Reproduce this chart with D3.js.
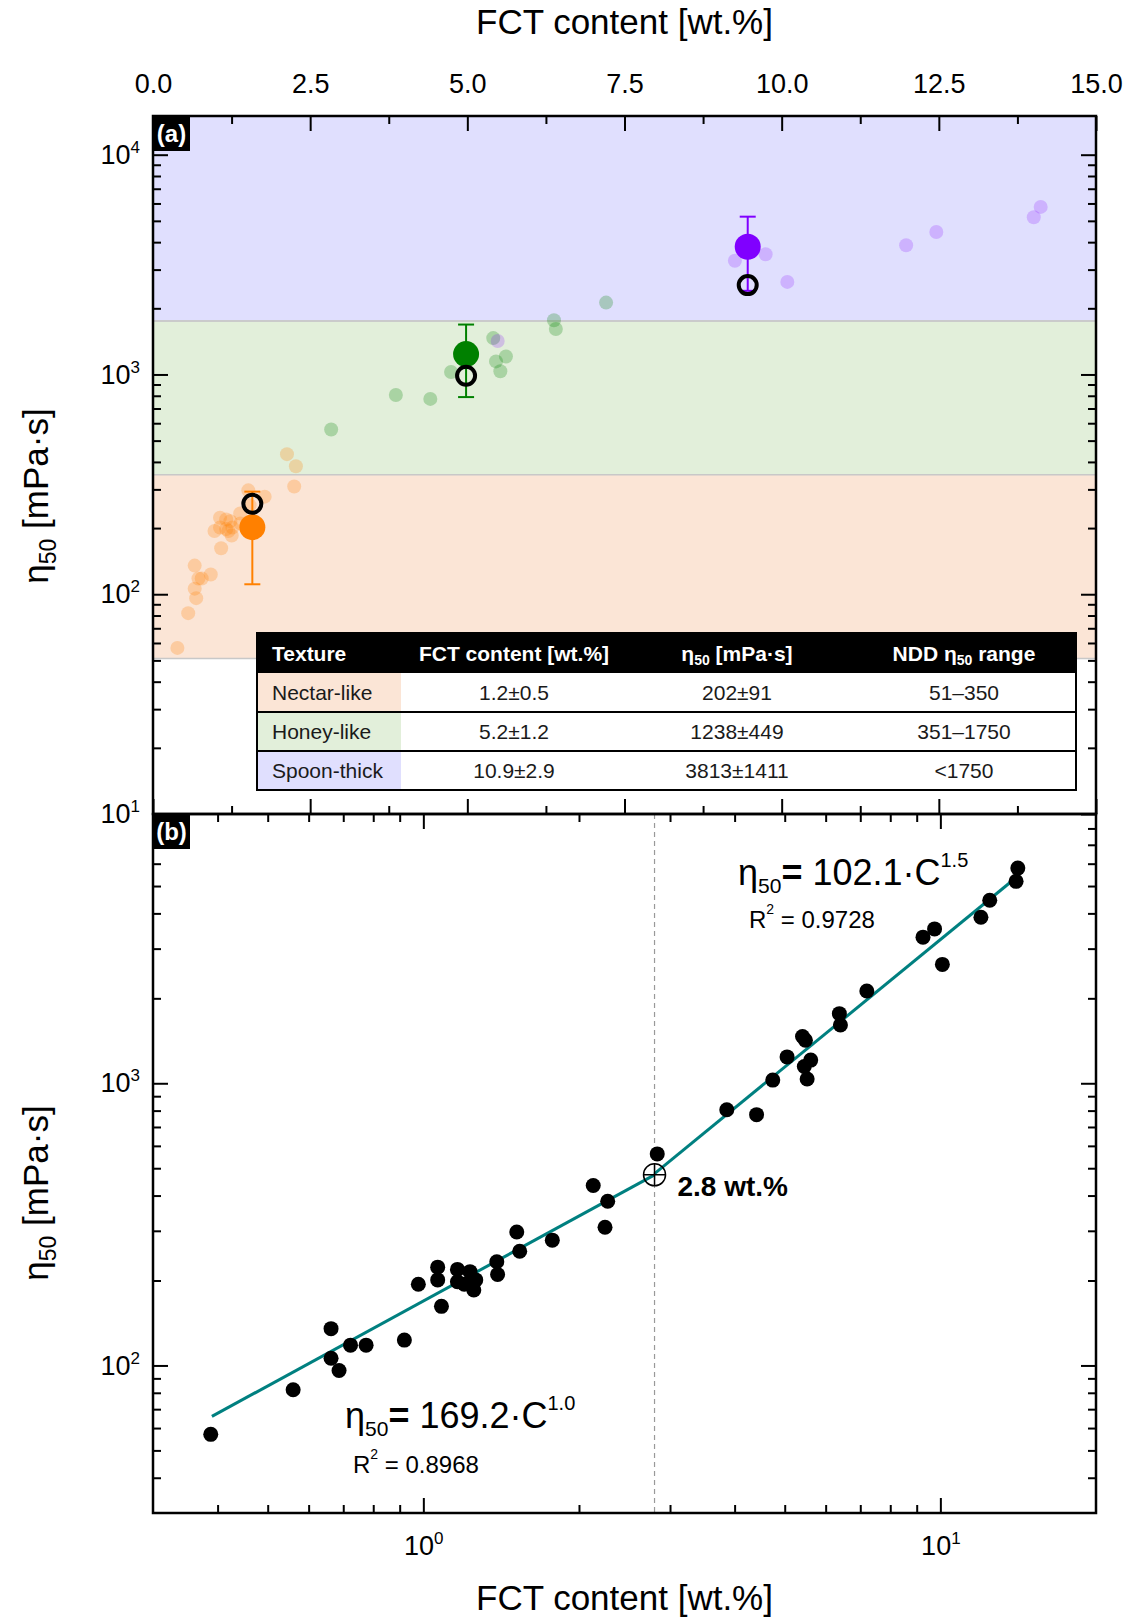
<!DOCTYPE html>
<html>
<head>
<meta charset="utf-8">
<title>FCT content vs eta50</title>
<script src="https://cdn.jsdelivr.net/npm/d3@7/dist/d3.min.js"></script>
<style>
  body { margin: 0; background: #fff; }
  svg text { font-family: "Liberation Sans", Arial, Helvetica, sans-serif; }
</style>
</head>
<body>
<svg id="chart" width="1131" height="1620"></svg>
<script>
// ---- values ----
// one entry per sample: FCT content [wt.%], eta50 [mPa·s], texture group (0 nectar, 1 honey, 2 spoon)
const fctContent = [0.388, 0.560, 0.663, 0.663, 0.687, 0.723, 0.775, 0.919, 0.978, 1.066,
                    1.066, 1.084, 1.164, 1.164, 1.231, 1.252, 1.263, 1.20, 1.387, 1.392,
                    1.516, 1.536, 1.776, 2.131, 2.273, 2.246, 2.834, 3.863, 4.411, 4.741,
                    5.053, 5.412, 5.483, 5.614, 5.456, 5.525, 6.378, 6.408, 7.207, 9.256,
                    9.745, 10.09, 11.98, 12.46, 14.12, 14.01];
const eta50 = [57, 82, 135, 106, 96, 118, 118, 123, 194, 223,
               201, 162, 219, 198, 215, 185, 201, 194, 233, 210,
               297, 254, 278, 434, 382, 309, 562, 806, 774, 1026,
               1240, 1464, 1421, 1208, 1147, 1035, 1765, 1609, 2123, 3294,
               3524, 2638, 3875, 4450, 5788, 5194];
const textureGroup = [0, 0, 0, 0, 0, 0, 0, 0, 0, 0,
                      0, 0, 0, 0, 0, 0, 0, 0, 0, 0,
                      0, 0, 0, 0, 0, 0, 1, 1, 1, 1,
                      1, 1, 2, 1, 1, 1, 1, 1, 1, 2,
                      2, 2, 2, 2, 2, 2];

// texture classes (table + bands)
const textures = ["Nectar-like", "Honey-like", "Spoon-thick"];
const fctMeanText = ["1.2±0.5", "5.2±1.2", "10.9±2.9"];
const etaMeanText = ["202±91", "1238±449", "3813±1411"];
const nddRangeText = ["51–350", "351–1750", "<1750"];
const bandLow = [51, 350, 1750];
const bandHigh = [350, 1750, 15000];

// group markers in panel (a)
const meanFct = [1.58, 4.98, 9.46];
const meanEta = [202, 1238, 3813];
const meanErr = [91, 449, 1411];
const refEta = [258, 986, 2550];

// power-law fits of panel (b): eta50 = a * C^b
const fitA = [169.2, 102.1];
const fitB = [1.0, 1.5];
const fitFrom = [0.39, 2.8];
const fitTo = [2.8, 14.0];
const fitR2 = ["0.8968", "0.9728"];
const breakFct = 2.8;

// ticks
const xTicksA = [0, 2.5, 5, 7.5, 10, 12.5, 15];
const xMinorA = [1.25, 3.75, 6.25, 8.75, 11.25, 13.75];
const yTicksA = [10, 100, 1000, 10000];
const xTicksB = [1, 10];
const yTicksB = [100, 1000];

const groupColor = ["#ff8000", "#008000", "#8000ff"];
const groupAlpha = [0.25, 0.25, 0.2];
const bandColor = ["#fbe5d6", "#e2efda", "#e0dffe"];
const fontFam = '"Liberation Sans", Arial, Helvetica, sans-serif';

const svg = d3.select("#chart");

// layout
const L = 153, R = 1096, topA = 116, mid = 814, botB = 1513;

const xA = d3.scaleLinear().domain([0, 15]).range([L, R]);
const yA = d3.scaleLog().domain([10, 15000]).range([mid, topA]);
const xB = d3.scaleLog().domain([0.3, 20]).range([L, R]);
const yB = d3.scaleLog().domain([30, 9000]).range([botB, mid]);

function logMinors(lo, hi) {
    let out = [];
    for (let e = Math.floor(Math.log10(lo)); e <= Math.ceil(Math.log10(hi)); e++) {
        for (let m = 2; m <= 9; m++) {
            let v = m * Math.pow(10, e);
            if (v > lo * 1.0001 && v < hi * 0.9999) out.push(v);
        }
    }
    return out;
}

function drawTicks(axisFn, scale, values, len, tx, ty, pad, fmt) {
    let axis = axisFn(scale)
        .tickValues(values)
        .tickSizeInner(-len)
        .tickSizeOuter(0)
        .tickPadding(pad)
        .tickFormat(fmt || (() => ""));
    let g = svg.append("g")
        .attr("transform", `translate(${tx},${ty})`)
        .call(axis);
    g.select(".domain").remove();
    g.selectAll(".tick line").attr("stroke", "#000").attr("stroke-width", 2);
    g.selectAll(".tick text")
        .attr("fill", "#000")
        .style("font-family", fontFam)
        .style("font-size", "27px");
    return g;
}

function powerTenLabels(g) {
    g.selectAll(".tick text").each(function (d) {
        let t = d3.select(this);
        t.text(null);
        t.append("tspan").text("10");
        t.append("tspan").attr("dy", -11).style("font-size", "17px").text(Math.round(Math.log10(d)));
    });
}

// ===== Panel (a) =====
// texture bands
svg.append("g").selectAll("rect")
    .data(textures)
    .join("rect")
    .attr("x", L)
    .attr("width", R - L)
    .attr("y", (d, i) => yA(Math.min(bandHigh[i], 15000)))
    .attr("height", (d, i) => yA(bandLow[i]) - yA(Math.min(bandHigh[i], 15000)))
    .attr("fill", (d, i) => bandColor[i]);

svg.append("g").selectAll("line")
    .data(bandLow.concat([1750]))
    .join("line")
    .attr("x1", L).attr("x2", R)
    .attr("y1", d => yA(d)).attr("y2", d => yA(d))
    .attr("stroke", "#c8c8c8")
    .attr("stroke-width", 1.5);

// samples (faded)
svg.append("g").selectAll("circle")
    .data(fctContent)
    .join("circle")
    .attr("cx", d => xA(d))
    .attr("cy", (d, i) => yA(eta50[i]))
    .attr("r", 7)
    .attr("fill", (d, i) => groupColor[textureGroup[i]])
    .attr("fill-opacity", (d, i) => groupAlpha[textureGroup[i]]);

// group markers with error bars
const grp = svg.append("g");
meanFct.forEach((c, i) => {
    let x = xA(c);
    let y0 = yA(meanEta[i] - meanErr[i]), y1 = yA(meanEta[i] + meanErr[i]);
    grp.append("line").attr("x1", x).attr("x2", x).attr("y1", y0).attr("y2", y1)
        .attr("stroke", groupColor[i]).attr("stroke-width", 2);
    [y0, y1].forEach(y => {
        grp.append("line").attr("x1", x - 8).attr("x2", x + 8).attr("y1", y).attr("y2", y)
            .attr("stroke", groupColor[i]).attr("stroke-width", 2);
    });
    grp.append("circle").attr("cx", x).attr("cy", yA(meanEta[i])).attr("r", 13)
        .attr("fill", groupColor[i]);
    grp.append("circle").attr("cx", x).attr("cy", yA(refEta[i])).attr("r", 9)
        .attr("fill", "none").attr("stroke", "#000").attr("stroke-width", 4);
});

// table
const tX0 = 257, tX1 = 1076, tY0 = 633, headH = 40, rowH = 39, swatchW = 144;
const colX = [272, 514, 737, 964];
const table = svg.append("g");
table.append("rect").attr("x", tX0).attr("y", tY0).attr("width", tX1 - tX0).attr("height", headH)
    .attr("fill", "#000");
table.selectAll(".row").data(textures).join("rect")
    .attr("x", tX0).attr("y", (d, i) => tY0 + headH + i * rowH)
    .attr("width", tX1 - tX0).attr("height", rowH).attr("fill", "#fff");
table.selectAll(".sw").data(textures).join("rect")
    .attr("x", tX0).attr("y", (d, i) => tY0 + headH + i * rowH)
    .attr("width", swatchW).attr("height", rowH).attr("fill", (d, i) => bandColor[i]);
table.selectAll(".sep").data(textures).join("line")
    .attr("x1", tX0).attr("x2", tX1)
    .attr("y1", (d, i) => tY0 + headH + (i + 1) * rowH)
    .attr("y2", (d, i) => tY0 + headH + (i + 1) * rowH)
    .attr("stroke", "#000").attr("stroke-width", 2);
table.append("rect").attr("x", tX0).attr("y", tY0).attr("width", tX1 - tX0)
    .attr("height", headH + 3 * rowH).attr("fill", "none").attr("stroke", "#000").attr("stroke-width", 2);

const hy = tY0 + headH / 2 + 7.5;
function headText(x, anchor) {
    return table.append("text").attr("x", x).attr("y", hy).attr("text-anchor", anchor)
        .attr("fill", "#fff").style("font-size", "21px").style("font-weight", "bold");
}
headText(colX[0], "start").text("Texture");
headText(colX[1], "middle").text("FCT content [wt.%]");
let h2 = headText(colX[2], "middle");
h2.append("tspan").text("η");
h2.append("tspan").attr("dy", 4).style("font-size", "14px").text("50");
h2.append("tspan").attr("dy", -4).text(" [mPa·s]");
let h3 = headText(colX[3], "middle");
h3.append("tspan").text("NDD η");
h3.append("tspan").attr("dy", 4).style("font-size", "14px").text("50");
h3.append("tspan").attr("dy", -4).text(" range");

const rowCols = [textures, fctMeanText, etaMeanText, nddRangeText];
rowCols.forEach((col, c) => {
    table.selectAll(".c" + c).data(col).join("text")
        .attr("x", colX[c])
        .attr("y", (d, i) => tY0 + headH + i * rowH + rowH / 2 + 7.5)
        .attr("text-anchor", c === 0 ? "start" : "middle")
        .attr("fill", "#1a1a1a")
        .style("font-size", "21px")
        .text(d => d);
});

// ===== Panel (b) =====
const xBreak = xB(breakFct);
svg.append("line").attr("x1", xBreak).attr("x2", xBreak).attr("y1", mid).attr("y2", botB)
    .attr("stroke", "#999").attr("stroke-width", 1.2).attr("stroke-dasharray", "5,4");

const fitLine = d3.line().x(d => xB(d[0])).y(d => yB(d[1]));
fitA.forEach((a, i) => {
    let ends = [fitFrom[i], fitTo[i]].map(c => [c, a * Math.pow(c, fitB[i])]);
    svg.append("path").attr("d", fitLine(ends))
        .attr("fill", "none").attr("stroke", "#008080").attr("stroke-width", 3);
});

svg.append("g").selectAll("circle")
    .data(fctContent)
    .join("circle")
    .attr("cx", d => xB(d))
    .attr("cy", (d, i) => yB(eta50[i]))
    .attr("r", 7.5)
    .attr("fill", "#000");

// break point marker
const bx = xBreak, by = yB(fitA[0] * Math.pow(breakFct, fitB[0]));
svg.append("circle").attr("cx", bx).attr("cy", by).attr("r", 11)
    .attr("fill", "none").attr("stroke", "#000").attr("stroke-width", 1.5);
svg.append("path").attr("d", `M${bx - 11},${by}H${bx + 11}M${bx},${by - 11}V${by + 11}`)
    .attr("stroke", "#000").attr("stroke-width", 1.5);
svg.append("text").attr("x", bx + 23).attr("y", by + 21)
    .style("font-size", "28px").style("font-weight", "bold").attr("fill", "#000")
    .text(breakFct + " wt.%");

// fit equations
function equation(x, y, a, b, r2, rx, ry) {
    let t = svg.append("text").attr("x", x).attr("y", y).attr("fill", "#000").style("font-size", "36px");
    t.append("tspan").text("η");
    t.append("tspan").attr("dy", 8).style("font-size", "21px").text("50");
    t.append("tspan").attr("dy", -8).style("font-weight", "bold").text("=");
    t.append("tspan").text(" " + a.toFixed(1) + "·C");
    t.append("tspan").attr("dy", -18).style("font-size", "20px").text(b.toFixed(1));
    let r = svg.append("text").attr("x", rx).attr("y", ry).attr("fill", "#000").style("font-size", "24px");
    r.append("tspan").text("R");
    r.append("tspan").attr("dy", -14).style("font-size", "14px").text("2");
    r.append("tspan").attr("dy", 14).text(" = " + r2);
}
equation(738, 885, fitA[1], fitB[1], fitR2[1], 749, 928);
equation(345, 1428, fitA[0], fitB[0], fitR2[0], 353, 1473);

// ===== axes / frames =====
// panel (a)
drawTicks(d3.axisTop, xA, xTicksA, 15, 0, topA, 23, d3.format(".1f"));
drawTicks(d3.axisTop, xA, xMinorA, 8, 0, topA, 0);
drawTicks(d3.axisBottom, xA, xTicksA, 15, 0, mid, 0);
drawTicks(d3.axisBottom, xA, xMinorA, 8, 0, mid, 0);
powerTenLabels(drawTicks(d3.axisLeft, yA, yTicksA, 15, L, 0, 13, d => d));
drawTicks(d3.axisLeft, yA, logMinors(10, 15000), 8, L, 0, 0);
drawTicks(d3.axisRight, yA, yTicksA, 15, R, 0, 0);
drawTicks(d3.axisRight, yA, logMinors(10, 15000), 8, R, 0, 0);

// panel (b)
drawTicks(d3.axisTop, xB, xTicksB, 15, 0, mid, 0);
drawTicks(d3.axisTop, xB, logMinors(0.3, 20), 8, 0, mid, 0);
powerTenLabels(drawTicks(d3.axisBottom, xB, xTicksB, 15, 0, botB, 23, d => d));
drawTicks(d3.axisBottom, xB, logMinors(0.3, 20), 8, 0, botB, 0);
powerTenLabels(drawTicks(d3.axisLeft, yB, yTicksB, 15, L, 0, 13, d => d));
drawTicks(d3.axisLeft, yB, logMinors(30, 9000), 8, L, 0, 0);
drawTicks(d3.axisRight, yB, yTicksB, 15, R, 0, 0);
drawTicks(d3.axisRight, yB, logMinors(30, 9000), 8, R, 0, 0);

svg.append("rect").attr("x", L).attr("y", topA).attr("width", R - L).attr("height", mid - topA)
    .attr("fill", "none").attr("stroke", "#000").attr("stroke-width", 2.5);
svg.append("rect").attr("x", L).attr("y", mid).attr("width", R - L).attr("height", botB - mid)
    .attr("fill", "none").attr("stroke", "#000").attr("stroke-width", 2.5);

// panel labels
[["(a)", topA], ["(b)", mid]].forEach(p => {
    svg.append("rect").attr("x", L).attr("y", p[1]).attr("width", 37).attr("height", 35).attr("fill", "#000");
    svg.append("text").attr("x", L + 18.5).attr("y", p[1] + 26).attr("text-anchor", "middle")
        .attr("fill", "#fff").style("font-size", "24px").style("font-weight", "bold").text(p[0]);
});

// axis titles
[34, 1610].forEach(y => {
    svg.append("text").attr("x", (L + R) / 2).attr("y", y).attr("text-anchor", "middle")
        .attr("fill", "#000").style("font-size", "35px").text("FCT content [wt.%]");
});
[496, 1193].forEach(cy => {
    let t = svg.append("text").attr("transform", `translate(48,${cy}) rotate(-90)`)
        .attr("text-anchor", "middle").attr("fill", "#000").style("font-size", "35px");
    t.append("tspan").text("η");
    t.append("tspan").attr("dy", 8).style("font-size", "23px").text("50");
    t.append("tspan").attr("dy", -8).text(" [mPa·s]");
});
</script>
</body>
</html>
